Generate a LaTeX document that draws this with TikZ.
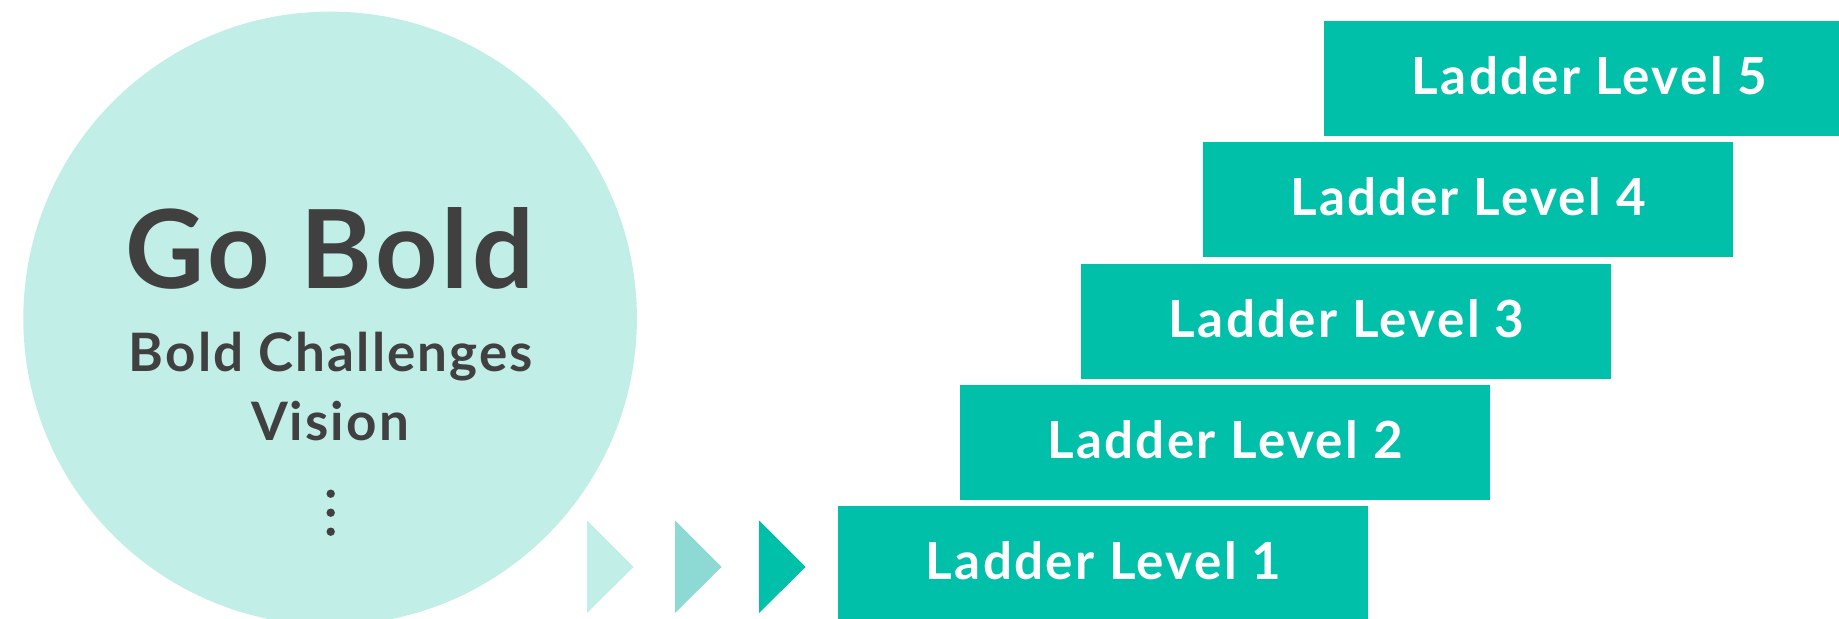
\documentclass[tikz,border=0pt]{standalone}
\usepackage{fontspec}
\setmainfont{Lato}
\usepackage{tikz}
\usetikzlibrary{positioning,calc}
\definecolor{mintlight}{HTML}{C2EEE8}
\definecolor{mintmid}{HTML}{8DD9D4}
\definecolor{tealbox}{HTML}{00C0AA}
\definecolor{darktext}{HTML}{404040}
\tikzset{
  levelbox/.style={fill=tealbox,draw=none,minimum width=265pt,minimum height=57.5pt,
    inner sep=0pt,text depth=3pt,anchor=north west,text=white,
    font=\fontsize{25.6}{30}\selectfont\bfseries\addfontfeatures{LetterSpace=4.5}},
  circtext/.style={text=darktext,anchor=base,inner sep=0pt},
  subtext/.style={circtext,font=\fontsize{26.5}{30}\selectfont\bfseries\addfontfeatures{LetterSpace=4}},
  arrowtri/.style={draw=none}
}

\begin{document}
\begin{tikzpicture}[x=0.5pt,y=-0.5pt]
  \useasboundingbox (0,0) rectangle (1839,619);
  % Vision circle (left)
  \fill[mintlight] (330.1,318.4) circle[radius=153.4pt];
  \node[circtext,font=\fontsize{54.5}{60}\selectfont\bfseries\addfontfeatures{LetterSpace=3.4}]
    (gobold) at (330,289) {Go Bold};
  \node[subtext] (challenges) at (331,372) {Bold Challenges};
  \node[subtext] (vision) at (330,441) {Vision};
  \foreach \y in {493.7,512.7,531.7}{
    \fill[darktext] (330.7,\y) circle[radius=2.1pt];
  }
  % Arrow triangles
  \foreach \x/\col in {587/mintlight,675/mintmid,759/tealbox}{
    \fill[arrowtri,\col] (\x,520.5) -- (\x+46.5,567) -- (\x,613) -- cycle;
  }
  % Ladder levels (right)
  \foreach \i in {1,...,5}{
    \pgfmathsetmacro{\bx}{838+121.5*(\i-1)}
    \pgfmathsetmacro{\by}{506-121.4*(\i-1)}
    \node[levelbox] (lvl\i) at (\bx,\by) {Ladder Level \i};
  }
\end{tikzpicture}
\end{document}
